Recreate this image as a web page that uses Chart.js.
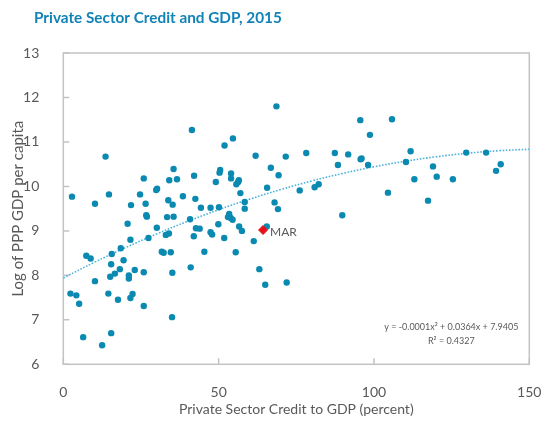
<!DOCTYPE html>
<html>
<head>
<meta charset="utf-8">
<script src="https://cdn.jsdelivr.net/npm/chart.js@4.4.1/dist/chart.umd.min.js"></script>
<style>
  html, body { margin: 0; padding: 0; background: #fff; }
</style>
</head>
<body>
<canvas id="scatter_chart" width="544" height="422"></canvas>
<script>
// private sector credit (% of GDP) and log of PPP GDP per capita, one entry per country
let credit = [
  13.6, 2.8, 10.2, 14.7, 25.9, 35.5, 34.1, 30.2, 29.9, 24.7, 21.8, 26.5, 33.8, 35.2, 26.7, 26.9, 33.4, 35.5, 20.7, 30.1, 21.6, 27.4, 33.0, 34.0, 18.5,
  15.6, 7.4, 8.8, 19.4, 31.7, 32.3, 34.6, 15.4, 18.2, 16.6, 23.0, 25.9, 35.1, 15.1, 21.1, 21.1, 10.2, 2.3, 4.2, 14.5, 5.1, 17.6, 22.3, 21.6, 25.9, 35.0, 6.4, 15.4, 12.5,
  68.6, 41.4, 54.6, 51.9, 61.9, 66.8, 50.5, 50.3, 54.0, 36.6, 42.1, 54.0, 56.5, 56.3, 55.7, 49.1, 69.3, 65.6, 57.0, 38.5, 42.5, 58.4, 68.0, 44.3, 47.4, 50.1, 58.4, 69.1, 53.4, 53.0, 53.9, 54.5, 40.8, 42.7, 43.9, 49.9, 56.6, 65.5,
  57.5, 42.0, 47.4, 47.9, 51.8, 61.3, 45.4, 55.5, 41.0, 63.1, 65.0,
  95.6, 105.8, 98.7, 71.6, 78.2, 87.4, 91.7, 95.7, 96.0, 88.4, 98.1, 76.1, 80.9, 82.2, 104.5, 89.8, 71.9,
  111.8, 110.3, 129.7, 136.1, 119.0, 140.8, 139.3, 113.0, 120.2, 125.4, 117.4
];
let logGdp = [
  10.67, 9.77, 9.61, 9.82, 10.18, 10.39, 10.14, 9.95, 9.92, 9.82, 9.58, 9.61, 9.69, 9.59, 9.35, 9.32, 9.31, 9.32, 9.16, 9.07, 8.80, 8.84, 8.91, 8.94, 8.61,
  8.48, 8.44, 8.38, 8.34, 8.53, 8.51, 8.52, 8.25, 8.14, 8.04, 8.12, 8.07, 8.06, 7.97, 8.00, 7.93, 7.87, 7.59, 7.55, 7.59, 7.36, 7.45, 7.58, 7.49, 7.31, 7.06, 6.61, 6.70, 6.43,
  11.80, 11.27, 11.08, 10.92, 10.69, 10.42, 10.37, 10.31, 10.29, 10.16, 10.24, 10.18, 10.14, 10.10, 10.05, 10.10, 10.25, 9.97, 9.85, 9.78, 9.72, 9.65, 9.64, 9.52, 9.52, 9.53, 9.50, 9.49, 9.38, 9.31, 9.29, 9.25, 9.26, 9.06, 9.05, 9.15, 9.10, 9.10,
  9.00, 8.88, 8.97, 8.92, 8.84, 8.77, 8.53, 8.52, 8.18, 8.14, 7.79,
  11.49, 11.51, 11.16, 10.67, 10.75, 10.75, 10.72, 10.61, 10.63, 10.48, 10.48, 9.91, 9.98, 10.05, 9.86, 9.35, 7.84,
  10.79, 10.55, 10.76, 10.76, 10.45, 10.50, 10.35, 10.16, 10.22, 10.16, 9.68
];

// Morocco, highlighted
let marCredit = [64.3];
let marGdp = [9.02];

// quadratic fit (a, b, c); the equation box shows it rounded
let fitCoef = [-0.000114, 0.0364, 7.9405];
let fitX = [0, 10, 20, 30, 40, 50, 60, 70, 80, 90, 100, 110, 120, 130, 140, 150];

let xTicks = [0, 50, 100, 150];
let yTicks = [6, 7, 8, 9, 10, 11, 12, 13];

const grey = '#595959';
const fontFam = 'Lato, "Open Sans", sans-serif';

let points = credit.map((c, i) => ({ x: c, y: logGdp[i] }));
let fitLine = fitX.map(x => ({ x: x, y: fitCoef[0] * x * x + fitCoef[1] * x + fitCoef[2] }));

// box, inward tick marks, labels and the equation text
const decorations = {
  id: 'decorations',
  beforeDatasetsDraw(chart) {
    const { ctx, chartArea: a, scales } = chart;
    ctx.save();
    ctx.strokeStyle = '#c3c3c3';
    ctx.lineWidth = 1.5;
    ctx.strokeRect(a.left, a.top, a.right - a.left, a.bottom - a.top);
    ctx.beginPath();
    xTicks.forEach(v => {
      const px = scales.x.getPixelForValue(v);
      ctx.moveTo(px, a.bottom);
      ctx.lineTo(px, a.bottom - 6);
    });
    yTicks.forEach(v => {
      const py = scales.y.getPixelForValue(v);
      ctx.moveTo(a.left, py);
      ctx.lineTo(a.left + 6, py);
    });
    ctx.stroke();
    ctx.restore();
  },
  afterDraw(chart) {
    const { ctx, chartArea: a, scales } = chart;
    ctx.save();
    // title
    ctx.fillStyle = '#1283b6';
    ctx.font = 'bold 15.3px ' + fontFam;
    ctx.textBaseline = 'middle';
    ctx.textAlign = 'left';
    ctx.fillText('Private Sector Credit and GDP, 2015', 34, 18);

    // country label
    ctx.fillStyle = grey;
    ctx.font = '12px ' + fontFam;
    ctx.fillText('MAR', scales.x.getPixelForValue(marCredit[0]) + 7, scales.y.getPixelForValue(marGdp[0]) + 2);

    // fit equation
    ctx.font = '9px ' + fontFam;
    ctx.textAlign = 'center';
    const cx = a.right - 78;
    ctx.fillText('y = -0.0001x\u00b2 + 0.0364x + 7.9405', cx, a.bottom - 37);
    ctx.fillText('R\u00b2 = 0.4327', cx, a.bottom - 23);
    ctx.restore();
  }
};

var ctx = document.getElementById('scatter_chart').getContext('2d');
var scatter_chart = new Chart(ctx, {
  type: 'scatter',
  data: {
    datasets: [
      {
        label: 'MAR',
        data: marCredit.map((c, i) => ({ x: c, y: marGdp[i] })),
        pointStyle: 'rectRot',
        pointRadius: 4.5,
        backgroundColor: '#e3121b',
        borderColor: '#e3121b',
        order: 0
      },
      {
        label: 'Countries',
        data: points,
        pointRadius: 3.2,
        backgroundColor: '#0a89b1',
        borderColor: '#0a89b1',
        borderWidth: 0,
        order: 1
      },
      {
        label: 'Fit',
        type: 'line',
        data: fitLine,
        showLine: true,
        pointRadius: 0,
        borderColor: '#4db2de',
        borderWidth: 1.6,
        borderDash: [1.6, 1.6],
        tension: 0.4,
        fill: false,
        order: 2
      }
    ]
  },
  options: {
    responsive: false,
    animation: false,
    events: [],
    layout: { padding: { top: 53, right: 14.7, left: 0, bottom: 0 } },
    plugins: {
      legend: { display: false },
      tooltip: { enabled: false }
    },
    scales: {
      x: {
        type: 'linear',
        min: 0,
        max: 150,
        afterFit: s => { s.height = 57.7; s.paddingLeft = 0; s.paddingRight = 0; },
        afterBuildTicks: s => { s.ticks = xTicks.map(v => ({ value: v })); },
        grid: { display: false },
        border: { display: false },
        ticks: { color: grey, font: { family: fontFam, size: 14 }, padding: 12, maxRotation: 0 },
        title: {
          display: true,
          text: 'Private Sector Credit to GDP (percent)',
          color: grey,
          font: { family: fontFam, size: 14 },
          padding: { top: 0, bottom: 4 }
        }
      },
      y: {
        type: 'linear',
        min: 6,
        max: 13,
        afterFit: s => { s.width = 63.3; s.paddingTop = 0; s.paddingBottom = 0; },
        afterBuildTicks: s => { s.ticks = yTicks.map(v => ({ value: v })); },
        grid: { display: false },
        border: { display: false },
        ticks: { color: grey, font: { family: fontFam, size: 14 }, padding: 16 },
        title: {
          display: true,
          text: 'Log of PPP GDP per capita',
          color: grey,
          font: { family: fontFam, size: 15 },
          padding: { top: 9, bottom: 0 }
        }
      }
    }
  },
  plugins: [decorations]
});
</script>
</body>
</html>
